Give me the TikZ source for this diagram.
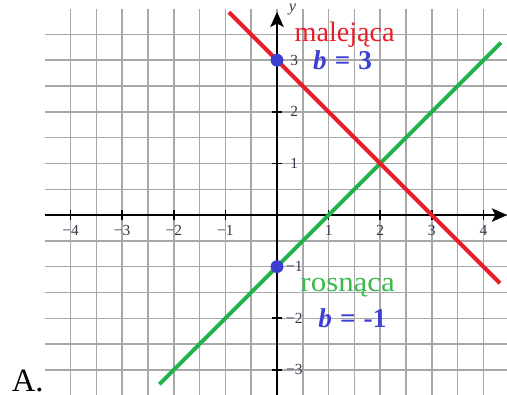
\documentclass[tikz,border=0pt]{standalone}
\usepackage{fontspec}
\setmainfont{Liberation Serif}
\usetikzlibrary{arrows.meta}
\definecolor{gridc}{RGB}{168,168,168}
\definecolor{redl}{RGB}{232,30,40}
\definecolor{greenl}{RGB}{34,176,72}
\definecolor{greent}{RGB}{60,185,75}
\definecolor{bluet}{RGB}{60,64,208}
\definecolor{labc}{RGB}{55,55,75}
\begin{document}
\begin{tikzpicture}[x=1cm,y=1cm,
  gridline/.style={draw=gridc,line width=0.8pt},
  axisline/.style={draw=black,line width=0.7pt},
  tickmark/.style={draw=black,line width=0.9pt},
  ticklab/.style={font=\fontsize{8.5}{9}\selectfont,text=labc,inner sep=0pt},
  graphline/.style={line width=2.2pt},
  bdot/.style={circle,fill=bluet,inner sep=0pt,minimum size=0.25cm},
  bigtext/.style={font=\fontsize{15.5}{17}\selectfont,inner sep=0pt,anchor=base},
  axtip/.style={-{Stealth[length=8.5pt,width=7.5pt,inset=2pt]}}]
\useasboundingbox (-5.368,-3.469) rectangle (4.457,4.167);
% grid
\foreach \x in {-4,-3.5,...,4.1} \draw[gridline] (\x,-3.6) -- (\x,4);
\foreach \y in {-3.5,-3,...,3.6} \draw[gridline] (-4.5,\y) -- (4.6,\y);
% axes
\coordinate (xs) at (-4.5,0);
\coordinate (xe) at (4.46,0);
\coordinate (ys) at (0,-3.6);
\coordinate (ye) at (0,3.94);
\draw[axisline,axtip] (xs) -- (xe);
\draw[axisline,axtip] (ys) -- (ye);
\node[font=\fontsize{9}{10}\selectfont\itshape,text=labc,inner sep=0pt] (ylab) at (0.3,3.99) {y};
\node[font=\fontsize{9}{10}\selectfont\itshape,text=labc,inner sep=0pt] (xlab) at (4.58,-0.15) {x};
% ticks
\foreach \x/\t in {-4/−4,-3/−3,-2/−2,-1/−1,1/1,2/2,3/3,4/4} {
  \draw[tickmark] (\x,-0.1) -- (\x,0.1);
  \node[ticklab,anchor=north] at (\x,-0.2) {\t};
}
\foreach \y in {1,2,3} {
  \draw[tickmark] (-0.1,\y) -- (0.1,\y);
  \node[ticklab,anchor=west] at (0.25,\y) {\y};
}
\foreach \y in {1,2,3} {
  \draw[tickmark] (-0.1,-\y) -- (0.1,-\y);
  \node[ticklab,anchor=west] at (0.17,-\y) {−\y};
}
% graphs
\coordinate (g1) at (-2.28,-3.28);
\coordinate (g2) at (4.34,3.34);
\coordinate (r1) at (-0.93,3.93);
\coordinate (r2) at (4.32,-1.32);
\draw[graphline,greenl] (g1) -- (g2);
\draw[graphline,redl] (r1) -- (r2);
% points
\node[bdot] (p3) at (0,3) {};
\node[bdot] (pm1) at (0,-1) {};
% texts
\node[bigtext,text=redl] (mal) at (1.31,3.365) {malejąca};
\node[bigtext,text=bluet,font=\fontsize{15}{17}\selectfont\bfseries] (b3) at (1.27,2.82) {\textit{b}\hspace{0.3em}=\hspace{0.3em}3};
\node[bigtext,text=greent] (ros) at (1.37,-1.476) {\scalebox{1.1}[1]{rosnąca}};
\node[bigtext,text=bluet,font=\fontsize{15}{17}\selectfont\bfseries] (bm1) at (1.46,-2.17) {\textit{b}\hspace{0.3em}=\hspace{0.3em}-1};
\node[font=\fontsize{18}{20}\selectfont,inner sep=0pt,anchor=base] (A) at (-4.83,-3.42) {A.};
\end{tikzpicture}
\end{document}
